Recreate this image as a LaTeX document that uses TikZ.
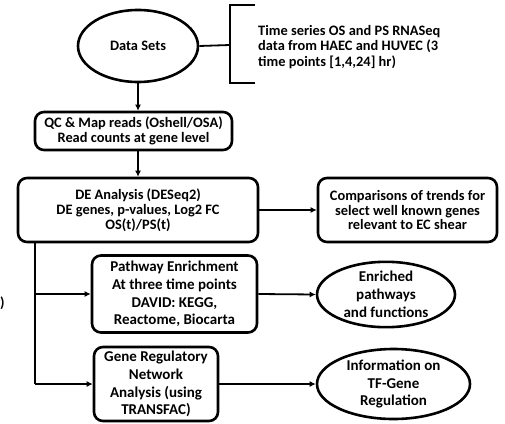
\documentclass[tikz,border=0pt]{standalone}
\usepackage{fontspec}
\setmainfont{Carlito}
\usetikzlibrary{shapes.geometric,arrows.meta}
\tikzset{
  x=1pt,y=-1pt,
  txt/.style={font=\bfseries\fontsize{14.4}{14.8}\selectfont, align=center, inner sep=0pt},
  txtd/.style={font=\bfseries\fontsize{14.4}{15.8}\selectfont, align=left, inner sep=0pt},
  txtb/.style={font=\bfseries\fontsize{15}{17.8}\selectfont, align=center, inner sep=0pt},
  rbox/.style={draw, line width=2.6pt, rounded corners=9pt, inner sep=0pt},
  ell/.style={draw, ellipse, line width=2.6pt, inner sep=0pt},
  conn/.style={line width=1.8pt},
  arr/.style={conn, -{Latex[length=6pt,width=6pt]}},
}
\begin{document}
\begin{tikzpicture}
\useasboundingbox (0,0) rectangle (505,423);
% Data sets ellipse
\node[ell, minimum width=120pt, minimum height=72pt, txt] (ds) at (138,46) {Data Sets};
% bracket
\coordinate (bm) at (230,45);
\coordinate (bt) at (230,5);
\coordinate (bb) at (230,83);
\coordinate (btr) at (255,5);
\coordinate (bbr) at (255,83);
\draw[conn] (ds.east) -- (bm);
\draw[conn] (btr) -- (bt) -- (bb) -- (bbr);
\node[txtd, anchor=west] (desc) at (258,47) {Time series OS and PS RNASeq\\data from HAEC and HUVEC (3\\time points [1,4,24] hr)};
% boxes
\node[rbox, minimum width=197pt, minimum height=38pt, txt] (qc) at (133.5,131) {QC \& Map reads (Oshell/OSA)\\Read counts at gene level};
\node[rbox, minimum width=240pt, minimum height=64pt, txt] (de) at (138,210) {DE Analysis (DESeq2)\\DE genes, p-values, Log2 FC\\OS(t)/PS(t)};
\node[rbox, minimum width=179pt, minimum height=64pt, txt] (cmp) at (407.5,210) {Comparisons of trends for\\select well known genes\\relevant to EC shear};
\node[rbox, minimum width=165pt, minimum height=77pt, txtb] (pw) at (174.5,294) {Pathway Enrichment\\At three time points\\DAVID: KEGG,\\Reactome, Biocarta};
\node[rbox, minimum width=124pt, minimum height=74pt, txtb] (grn) at (156,384) {Gene Regulatory\\Network\\Analysis (using\\TRANSFAC)};
\node[ell, minimum width=138pt, minimum height=65pt, txtb] (en) at (386,294.5) {Enriched\\pathways\\and functions};
\node[ell, minimum width=153pt, minimum height=70pt, txtb] (info) at (393.5,384) {Information on\\TF-Gene\\Regulation};
\node[txt, anchor=west] (paren) at (0,303) {)};
% connectors
\draw[arr] (ds.south) -- (ds.south |- qc.north);
\draw[arr] (ds.south |- qc.south) -- (ds.south |- de.north);
\draw[arr] (de.east) -- (cmp.west);
\coordinate (tr) at (35,0);
\draw[conn] (tr |- de.south) -- (tr |- grn.west);
\draw[arr] (tr |- pw.west) -- (pw.west);
\draw[arr] (tr |- grn.west) -- (grn.west);
\draw[arr] (pw.east) -- (en.west);
\draw[arr] (grn.east) -- (info.west);
\end{tikzpicture}
\end{document}
